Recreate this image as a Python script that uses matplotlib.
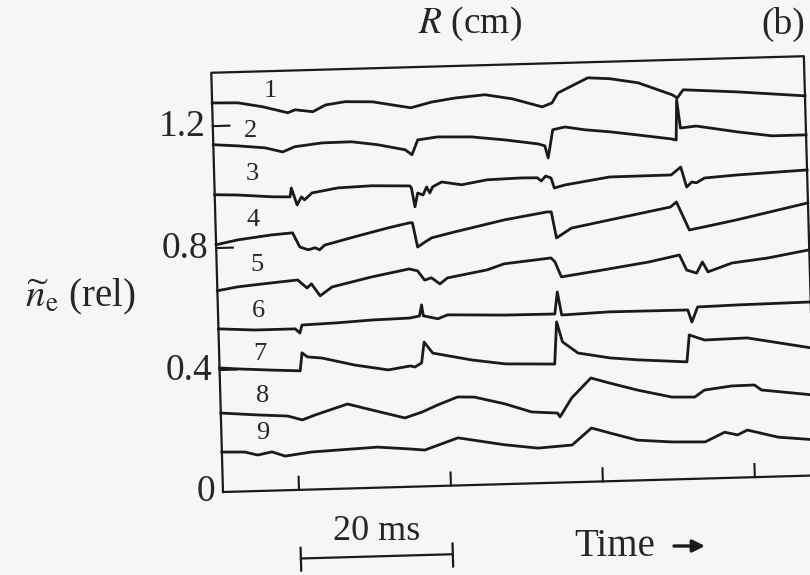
import matplotlib
matplotlib.use("Agg")
import matplotlib.pyplot as plt
from matplotlib.transforms import Affine2D

plt.rcParams["font.family"] = ["Liberation Serif", "DejaVu Serif"]
plt.rcParams["mathtext.fontset"] = "stix"

# density traces from the nine radial probes: time (ms), relative density
t1 = [0, 3.4, 6.6, 9.9, 10.9, 13.2, 14.9, 17.5, 21.1, 23.7, 26.1, 28.9, 32.0, 35.9, 39.5, 43.4,
      44.7, 45.5, 49.5, 52.4, 56.1, 60.5, 61.2, 62.0, 69.2, 78.0]
n1 = [1.276, 1.274, 1.259, 1.237, 1.246, 1.238, 1.259, 1.268, 1.265, 1.253, 1.242, 1.259, 1.270,
      1.278, 1.262, 1.233, 1.245, 1.277, 1.324, 1.319, 1.303, 1.261, 1.250, 1.276, 1.264, 1.245]

t2 = [0, 3.2, 6.8, 9.1, 10.7, 14.3, 18.2, 21.6, 25.2, 26.1, 26.9, 29.5, 34.0, 38.4, 42.7, 43.6,
      44.0, 44.7, 46.3, 48.9, 52.2, 55.9, 60.3, 60.9, 61.1, 61.5, 63.6, 69.0, 73.5, 78.0]
n2 = [1.139, 1.133, 1.124, 1.109, 1.125, 1.135, 1.136, 1.124, 1.105, 1.088, 1.136, 1.144, 1.141,
      1.128, 1.112, 1.105, 1.065, 1.157, 1.165, 1.154, 1.145, 1.132, 1.116, 1.112, 1.244, 1.151,
      1.156, 1.133, 1.117, 1.117]

t3 = [0, 3.0, 7.5, 9.9, 10.1, 10.8, 11.4, 11.8, 12.8, 16.2, 20.7, 25.7, 25.9, 26.3, 26.7, 27.4,
      27.9, 28.3, 28.7, 29.9, 32.5, 35.9, 40.4, 42.5, 43.0, 43.6, 44.3, 44.7, 46.1, 52.0, 60.1,
      61.4, 62.1, 62.8, 63.4, 64.5, 68.8, 78.0]
n3 = [0.975, 0.972, 0.963, 0.961, 0.990, 0.934, 0.960, 0.950, 0.972, 0.986, 0.990, 0.986, 0.979,
      0.917, 0.962, 0.955, 0.981, 0.961, 0.981, 0.996, 0.985, 0.999, 1.002, 1.001, 0.990, 1.006,
      0.999, 0.966, 0.975, 0.997, 0.998, 1.023, 0.957, 0.973, 0.970, 0.985, 0.992, 1.002]

t4 = [0, 2.9, 7.3, 10.1, 11.0, 12.1, 13.0, 13.6, 14.3, 18.2, 22.6, 25.5, 25.9, 26.5, 27.5, 28.4,
      31.4, 38.0, 43.6, 44.2, 44.8, 46.8, 51.8, 59.9, 60.7, 62.3, 64.3, 68.6, 78.0]
n4 = [0.811, 0.825, 0.838, 0.843, 0.796, 0.786, 0.792, 0.785, 0.800, 0.824, 0.850, 0.865, 0.865,
      0.785, 0.801, 0.814, 0.831, 0.866, 0.888, 0.888, 0.802, 0.833, 0.856, 0.893, 0.909, 0.816,
      0.825, 0.845, 0.894]

t5 = [0, 2.7, 7.2, 10.6, 11.8, 12.4, 13.5, 15.1, 20.3, 25.3, 26.4, 27.3, 28.2, 29.3, 30.3, 35.6,
      37.8, 44.0, 44.5, 45.3, 50.8, 56.9, 60.9, 61.8, 63.1, 63.9, 64.6, 67.8, 72.5, 78.0]
n5 = [0.660, 0.671, 0.681, 0.688, 0.661, 0.674, 0.634, 0.662, 0.691, 0.714, 0.707, 0.676, 0.683,
      0.662, 0.681, 0.704, 0.722, 0.737, 0.724, 0.674, 0.693, 0.715, 0.735, 0.685, 0.674, 0.710,
      0.677, 0.704, 0.717, 0.740]

t6 = [0, 4.8, 10.1, 10.7, 11.0, 15.7, 20.2, 25.2, 26.5, 26.8, 27.0, 28.9, 30.2, 37.7, 44.3, 44.7,
      45.2, 51.5, 61.8, 62.3, 63.1, 68.4, 78.0]
n6 = [0.535, 0.528, 0.528, 0.514, 0.540, 0.544, 0.550, 0.553, 0.559, 0.595, 0.559, 0.548, 0.560,
      0.554, 0.553, 0.625, 0.549, 0.555, 0.554, 0.514, 0.563, 0.566, 0.569]

t7 = [0, 2.4, 6.9, 10.6, 10.9, 11.6, 13.5, 17.8, 22.2, 25.1, 25.7, 26.6, 27.0, 28.1, 33.2, 37.6,
      44.1, 44.5, 45.2, 47.2, 51.4, 55.1, 61.5, 61.9, 63.9, 69.5, 78.0]
n7 = [0.407, 0.402, 0.395, 0.390, 0.449, 0.435, 0.430, 0.404, 0.385, 0.396, 0.392, 0.405, 0.473,
      0.436, 0.410, 0.394, 0.389, 0.527, 0.461, 0.423, 0.404, 0.395, 0.384, 0.472, 0.454, 0.457,
      0.418]

t8 = [0, 4.5, 8.8, 10.7, 12.4, 16.7, 19.9, 24.2, 26.5, 28.6, 31.2, 33.4, 37.4, 40.9, 44.3, 44.6,
      46.2, 48.8, 51.2, 54.9, 59.4, 62.4, 63.7, 67.3, 70.3, 71.2, 78.0]
n8 = [0.259, 0.250, 0.243, 0.229, 0.244, 0.277, 0.255, 0.226, 0.244, 0.266, 0.290, 0.288, 0.263,
      0.234, 0.228, 0.215, 0.276, 0.340, 0.322, 0.296, 0.270, 0.268, 0.290, 0.301, 0.302, 0.285,
      0.264]

t9 = [0, 3.0, 4.7, 6.6, 8.3, 11.8, 15.3, 20.5, 24.7, 26.7, 31.1, 32.9, 37.2, 41.6, 46.1, 48.7,
      51.1, 54.7, 59.2, 63.6, 66.2, 67.9, 69.2, 73.2, 78.0]
n9 = [0.131, 0.129, 0.118, 0.127, 0.112, 0.123, 0.127, 0.133, 0.124, 0.119, 0.156, 0.148, 0.129,
      0.115, 0.122, 0.176, 0.158, 0.132, 0.123, 0.120, 0.150, 0.140, 0.155, 0.129, 0.117]

channels = ["1", "2", "3", "4", "5", "6", "7", "8", "9"]
label_t = [7.7, 4.9, 5.0, 4.9, 5.3, 5.3, 5.4, 5.5, 5.5]
label_n = [1.31, 1.18, 1.04, 0.89, 0.74, 0.59, 0.45, 0.31, 0.19]

yticks = [0, 0.4, 0.8, 1.2]
ytick_labels = ["0", "0.4", "0.8", "1.2"]
xticks = [10, 30, 50, 70]
scale_bar = (10, 30)  # 20 ms
T_MAX = 78.0
N_MAX = 1.375

INK = "#1a1a1a"
TEXT = "#262626"
PAPER = "#f6f6f4"

fig = plt.figure(figsize=(8.1, 5.75), dpi=100, facecolor=PAPER)
ax = fig.add_axes([223 / 810, 83 / 575, 592.8 / 810, 419.4 / 575])
ax.set_xlim(0, T_MAX)
ax.set_ylim(0, N_MAX)
ax.axis("off")

# the scanned page sits slightly skewed, so everything in the panel is rotated a bit
tr = ax.transData + Affine2D().rotate_deg_around(223, 83, 1.6)

# frame
ax.plot([0, T_MAX, T_MAX, 0, 0], [0, 0, N_MAX, N_MAX, 0], color=INK, lw=1.6,
        transform=tr, clip_on=False)

# inward ticks
for x in xticks:
    ax.plot([x, x], [0, 0.043], color=INK, lw=1.5, transform=tr, clip_on=False)
for y in yticks[1:]:
    ax.plot([0, 2.2], [y, y], color=INK, lw=1.5, transform=tr, clip_on=False)
for y, lab in zip(yticks, ytick_labels):
    ax.text(-1.0, y, lab, ha="right", va="center", fontsize=27, color=TEXT,
            transform=tr, clip_on=False)

traces = [(t1, n1), (t2, n2), (t3, n3), (t4, n4), (t5, n5), (t6, n6), (t7, n7), (t8, n8), (t9, n9)]
for t, n in traces:
    ax.plot(t, n, color=INK, lw=2.0, solid_joinstyle="round", transform=tr, clip_on=False)

for lab, x, y in zip(channels, label_t, label_n):
    ax.text(x, y, lab, ha="center", va="center", fontsize=19, color=TEXT,
            transform=tr, clip_on=False)

# 20 ms scale bar below the time axis
x0, x1 = scale_bar
ax.plot([x0, x1], [-0.225, -0.225], color=INK, lw=1.6, transform=tr, clip_on=False)
for x in scale_bar:
    ax.plot([x, x], [-0.19, -0.265], color=INK, lw=1.6, transform=tr, clip_on=False)
ax.text((x0 + x1) / 2, -0.145, f"{x1 - x0} ms", ha="center", va="center", fontsize=26,
        color=TEXT, transform=tr, clip_on=False)

fig.text(470 / 810, 1 - 24 / 575, r"$R$ (cm)", ha="center", va="center", fontsize=27,
         color=TEXT)
fig.text(783 / 810, 1 - 24 / 575, "(b)", ha="center", va="center", fontsize=27, color=TEXT)
fig.text(80 / 810, 1 - 297 / 575, r"$\widetilde{n}_{\mathrm{e}}$ (rel)", ha="center",
         va="center", fontsize=28, color=TEXT)
fig.text(615 / 810, 1 - 546 / 575, "Time", ha="center", va="center", fontsize=28, color=TEXT)
ax.annotate("", xy=(705, 29), xytext=(674, 29), xycoords="figure pixels",
            textcoords="figure pixels",
            arrowprops=dict(arrowstyle="-|>", color=INK, lw=2.4, mutation_scale=18,
                            shrinkA=0, shrinkB=0))

fig.savefig("out.png", dpi=100, facecolor=PAPER)
